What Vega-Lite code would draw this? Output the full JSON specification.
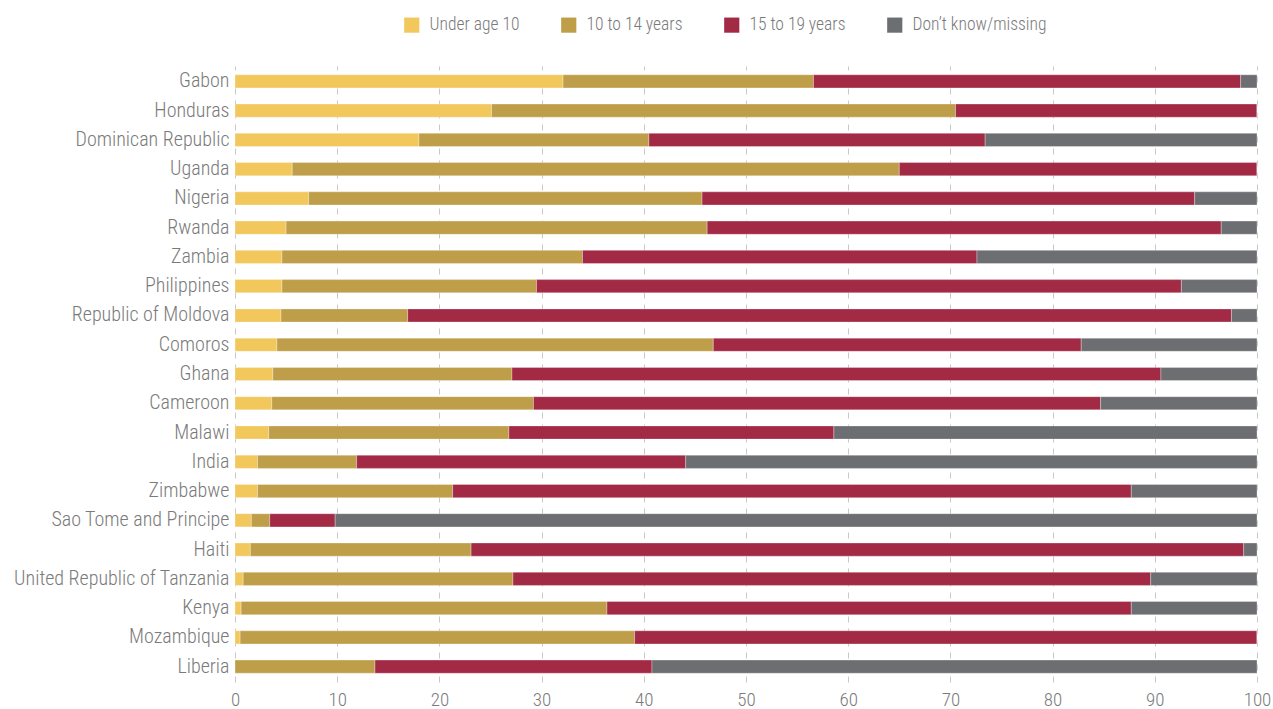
{
  "$schema": "https://vega.github.io/schema/vega-lite/v6.json",
  "width": 1022,
  "height": 616,
  "autosize": {"type": "none"},
  "padding": {"left": 235, "top": 66, "right": 16, "bottom": 27},
  "background": "white",
  "config": {
    "view": {"stroke": null},
    "font": "'Roboto Condensed', 'DejaVu Sans Condensed', 'Liberation Sans Narrow', Roboto, sans-serif",
    "axis": {"labelFont": "'Roboto Condensed', 'DejaVu Sans Condensed', 'Liberation Sans Narrow', Roboto, sans-serif", "labelColor": "#7a7a7a", "labelFontWeight": 300},
    "legend": {"labelFont": "'Roboto Condensed', 'DejaVu Sans Condensed', 'Liberation Sans Narrow', Roboto, sans-serif", "labelColor": "#7a7a7a", "labelFontWeight": 300}
  },
  "data": {
    "values": [
      {"country": "Gabon", "g": "Under age 10", "k": 1, "v": 32.1},
      {"country": "Gabon", "g": "10 to 14 years", "k": 2, "v": 24.5},
      {"country": "Gabon", "g": "15 to 19 years", "k": 3, "v": 41.8},
      {"country": "Gabon", "g": "Don’t know/missing", "k": 4, "v": 1.6},
      {"country": "Honduras", "g": "Under age 10", "k": 1, "v": 25.1},
      {"country": "Honduras", "g": "10 to 14 years", "k": 2, "v": 45.4},
      {"country": "Honduras", "g": "15 to 19 years", "k": 3, "v": 29.5},
      {"country": "Honduras", "g": "Don’t know/missing", "k": 4, "v": 0},
      {"country": "Dominican Republic", "g": "Under age 10", "k": 1, "v": 18.0},
      {"country": "Dominican Republic", "g": "10 to 14 years", "k": 2, "v": 22.5},
      {"country": "Dominican Republic", "g": "15 to 19 years", "k": 3, "v": 32.9},
      {"country": "Dominican Republic", "g": "Don’t know/missing", "k": 4, "v": 26.6},
      {"country": "Uganda", "g": "Under age 10", "k": 1, "v": 5.6},
      {"country": "Uganda", "g": "10 to 14 years", "k": 2, "v": 59.4},
      {"country": "Uganda", "g": "15 to 19 years", "k": 3, "v": 35.0},
      {"country": "Uganda", "g": "Don’t know/missing", "k": 4, "v": 0},
      {"country": "Nigeria", "g": "Under age 10", "k": 1, "v": 7.2},
      {"country": "Nigeria", "g": "10 to 14 years", "k": 2, "v": 38.5},
      {"country": "Nigeria", "g": "15 to 19 years", "k": 3, "v": 48.2},
      {"country": "Nigeria", "g": "Don’t know/missing", "k": 4, "v": 6.1},
      {"country": "Rwanda", "g": "Under age 10", "k": 1, "v": 5.0},
      {"country": "Rwanda", "g": "10 to 14 years", "k": 2, "v": 41.2},
      {"country": "Rwanda", "g": "15 to 19 years", "k": 3, "v": 50.3},
      {"country": "Rwanda", "g": "Don’t know/missing", "k": 4, "v": 3.5},
      {"country": "Zambia", "g": "Under age 10", "k": 1, "v": 4.6},
      {"country": "Zambia", "g": "10 to 14 years", "k": 2, "v": 29.4},
      {"country": "Zambia", "g": "15 to 19 years", "k": 3, "v": 38.6},
      {"country": "Zambia", "g": "Don’t know/missing", "k": 4, "v": 27.4},
      {"country": "Philippines", "g": "Under age 10", "k": 1, "v": 4.6},
      {"country": "Philippines", "g": "10 to 14 years", "k": 2, "v": 24.9},
      {"country": "Philippines", "g": "15 to 19 years", "k": 3, "v": 63.1},
      {"country": "Philippines", "g": "Don’t know/missing", "k": 4, "v": 7.4},
      {"country": "Republic of Moldova", "g": "Under age 10", "k": 1, "v": 4.5},
      {"country": "Republic of Moldova", "g": "10 to 14 years", "k": 2, "v": 12.4},
      {"country": "Republic of Moldova", "g": "15 to 19 years", "k": 3, "v": 80.6},
      {"country": "Republic of Moldova", "g": "Don’t know/missing", "k": 4, "v": 2.5},
      {"country": "Comoros", "g": "Under age 10", "k": 1, "v": 4.1},
      {"country": "Comoros", "g": "10 to 14 years", "k": 2, "v": 42.7},
      {"country": "Comoros", "g": "15 to 19 years", "k": 3, "v": 36.0},
      {"country": "Comoros", "g": "Don’t know/missing", "k": 4, "v": 17.2},
      {"country": "Ghana", "g": "Under age 10", "k": 1, "v": 3.7},
      {"country": "Ghana", "g": "10 to 14 years", "k": 2, "v": 23.4},
      {"country": "Ghana", "g": "15 to 19 years", "k": 3, "v": 63.5},
      {"country": "Ghana", "g": "Don’t know/missing", "k": 4, "v": 9.4},
      {"country": "Cameroon", "g": "Under age 10", "k": 1, "v": 3.6},
      {"country": "Cameroon", "g": "10 to 14 years", "k": 2, "v": 25.6},
      {"country": "Cameroon", "g": "15 to 19 years", "k": 3, "v": 55.5},
      {"country": "Cameroon", "g": "Don’t know/missing", "k": 4, "v": 15.3},
      {"country": "Malawi", "g": "Under age 10", "k": 1, "v": 3.3},
      {"country": "Malawi", "g": "10 to 14 years", "k": 2, "v": 23.5},
      {"country": "Malawi", "g": "15 to 19 years", "k": 3, "v": 31.8},
      {"country": "Malawi", "g": "Don’t know/missing", "k": 4, "v": 41.4},
      {"country": "India", "g": "Under age 10", "k": 1, "v": 2.2},
      {"country": "India", "g": "10 to 14 years", "k": 2, "v": 9.7},
      {"country": "India", "g": "15 to 19 years", "k": 3, "v": 32.2},
      {"country": "India", "g": "Don’t know/missing", "k": 4, "v": 55.9},
      {"country": "Zimbabwe", "g": "Under age 10", "k": 1, "v": 2.2},
      {"country": "Zimbabwe", "g": "10 to 14 years", "k": 2, "v": 19.1},
      {"country": "Zimbabwe", "g": "15 to 19 years", "k": 3, "v": 66.4},
      {"country": "Zimbabwe", "g": "Don’t know/missing", "k": 4, "v": 12.3},
      {"country": "Sao Tome and Principe", "g": "Under age 10", "k": 1, "v": 1.6},
      {"country": "Sao Tome and Principe", "g": "10 to 14 years", "k": 2, "v": 1.8},
      {"country": "Sao Tome and Principe", "g": "15 to 19 years", "k": 3, "v": 6.4},
      {"country": "Sao Tome and Principe", "g": "Don’t know/missing", "k": 4, "v": 90.2},
      {"country": "Haiti", "g": "Under age 10", "k": 1, "v": 1.5},
      {"country": "Haiti", "g": "10 to 14 years", "k": 2, "v": 21.6},
      {"country": "Haiti", "g": "15 to 19 years", "k": 3, "v": 75.6},
      {"country": "Haiti", "g": "Don’t know/missing", "k": 4, "v": 1.3},
      {"country": "United Republic of Tanzania", "g": "Under age 10", "k": 1, "v": 0.8},
      {"country": "United Republic of Tanzania", "g": "10 to 14 years", "k": 2, "v": 26.4},
      {"country": "United Republic of Tanzania", "g": "15 to 19 years", "k": 3, "v": 62.4},
      {"country": "United Republic of Tanzania", "g": "Don’t know/missing", "k": 4, "v": 10.4},
      {"country": "Kenya", "g": "Under age 10", "k": 1, "v": 0.6},
      {"country": "Kenya", "g": "10 to 14 years", "k": 2, "v": 35.8},
      {"country": "Kenya", "g": "15 to 19 years", "k": 3, "v": 51.3},
      {"country": "Kenya", "g": "Don’t know/missing", "k": 4, "v": 12.3},
      {"country": "Mozambique", "g": "Under age 10", "k": 1, "v": 0.5},
      {"country": "Mozambique", "g": "10 to 14 years", "k": 2, "v": 38.6},
      {"country": "Mozambique", "g": "15 to 19 years", "k": 3, "v": 60.9},
      {"country": "Mozambique", "g": "Don’t know/missing", "k": 4, "v": 0},
      {"country": "Liberia", "g": "Under age 10", "k": 1, "v": 0},
      {"country": "Liberia", "g": "10 to 14 years", "k": 2, "v": 13.7},
      {"country": "Liberia", "g": "15 to 19 years", "k": 3, "v": 27.1},
      {"country": "Liberia", "g": "Don’t know/missing", "k": 4, "v": 59.2}
    ]
  },
  "mark": {"type": "bar", "stroke": "white", "strokeWidth": 0.5, "strokeOpacity": 0.6},
  "encoding": {
    "y": {
      "field": "country",
      "type": "nominal",
      "sort": null,
      "title": null,
      "scale": {"paddingInner": 0.55, "paddingOuter": 0.3},
      "axis": {"domain": false, "ticks": false, "labelFontSize": 20, "labelPadding": 6, "labelLimit": 0, "labelColor": "#7a7a7a"}
    },
    "x": {
      "field": "v",
      "type": "quantitative",
      "stack": "zero",
      "title": null,
      "scale": {"domain": [0, 100], "nice": false},
      "axis": {
        "values": [0, 10, 20, 30, 40, 50, 60, 70, 80, 90, 100],
        "domain": false,
        "ticks": false,
        "grid": true,
        "gridColor": "#c8c8c8",
        "gridDash": [6, 6],
        "gridWidth": 1,
        "labelFlush": false,
        "labelFontSize": 19,
        "labelPadding": 8,
        "labelColor": "#7a7a7a"
      }
    },
    "color": {
      "field": "g",
      "type": "nominal",
      "title": null,
      "scale": {
        "domain": ["Under age 10", "10 to 14 years", "15 to 19 years", "Don’t know/missing"],
        "range": ["#F2C75C", "#BE9E48", "#A32A45", "#6D6E71"]
      },
      "legend": {
        "orient": "none",
        "legendX": 168,
        "legendY": -50,
        "direction": "horizontal",
        "symbolType": "square",
        "symbolSize": 230,
        "symbolStrokeWidth": 0,
        "labelFontSize": 17.5,
        "columnPadding": 40,
        "labelOffset": 9
      }
    },
    "order": {"field": "k", "type": "quantitative"}
  }
}
